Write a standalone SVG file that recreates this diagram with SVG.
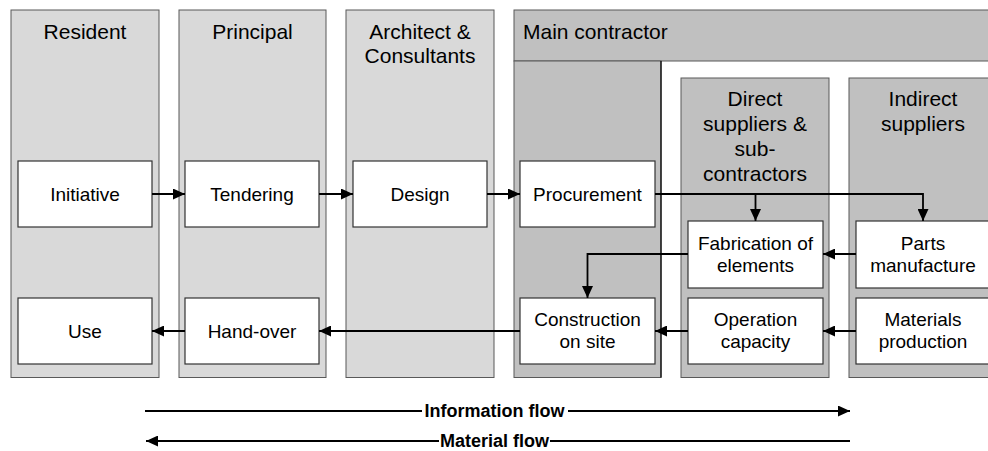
<svg xmlns="http://www.w3.org/2000/svg" width="988" height="451" viewBox="0 0 988 451">
<style>
.lane{fill:#d9d9d9;stroke:#595959;stroke-width:1}
.lane2{fill:#c0c0c0;stroke:#595959;stroke-width:1}
.node{fill:#ffffff;stroke:#333333;stroke-width:1.2}
.hd{font-family:"Liberation Sans",Arial,sans-serif;font-size:21px;fill:#000;text-anchor:middle}
.tx{font-family:"Liberation Sans",Arial,sans-serif;font-size:19px;fill:#000;text-anchor:middle}
.fl{font-family:"Liberation Sans",Arial,sans-serif;font-size:18px;font-weight:bold;fill:#000;text-anchor:middle}
.c{fill:none;stroke:#000;stroke-width:1.8}
</style>
<defs>
<marker id="ah" markerUnits="userSpaceOnUse" markerWidth="13" markerHeight="11" refX="12" refY="5.5" orient="auto">
<path d="M0,0 L12,5.5 L0,11 z" fill="#000"/>
</marker>
</defs>
<rect width="988" height="451" fill="#fff"/>
<g id="lane-resident">
<rect class="lane" x="11" y="10" width="148" height="367.5"/>
<text class="hd" x="85" y="39">Resident</text>
</g>
<g id="lane-principal">
<rect class="lane" x="179" y="10" width="147" height="367.5"/>
<text class="hd" x="252.5" y="39">Principal</text>
</g>
<g id="lane-architect">
<rect class="lane" x="346" y="10" width="148" height="367.5"/>
<text class="hd" x="420" y="39">Architect &amp;</text>
<text class="hd" x="420" y="63">Consultants</text>
</g>
<g id="lane-main-contractor">
<rect class="lane2" x="514" y="10" width="480" height="51"/>
<rect class="lane2" x="514" y="61" width="147" height="316.5"/>
<line x1="661" y1="61" x2="661" y2="377.5" stroke="#000" stroke-width="1.2"/>
<text class="hd" x="523" y="39" style="text-anchor:start">Main contractor</text>
</g>
<g id="lane-direct">
<rect class="lane2" x="681" y="78" width="148" height="299.5"/>
<text class="hd" x="755" y="106">Direct</text>
<text class="hd" x="755" y="131">suppliers &amp;</text>
<text class="hd" x="755" y="156">sub-</text>
<text class="hd" x="755" y="181">contractors</text>
</g>
<g id="lane-indirect">
<rect class="lane2" x="849" y="78" width="145" height="299.5"/>
<text class="hd" x="923" y="106">Indirect</text>
<text class="hd" x="923" y="131">suppliers</text>
</g>
<g id="node-initiative">
<rect class="node" x="18" y="161" width="134" height="66"/>
<text class="tx" x="85" y="201">Initiative</text>
</g>
<g id="node-tendering">
<rect class="node" x="185" y="161" width="134" height="66"/>
<text class="tx" x="252" y="201">Tendering</text>
</g>
<g id="node-design">
<rect class="node" x="353" y="161" width="134" height="66"/>
<text class="tx" x="420" y="201">Design</text>
</g>
<g id="node-procurement">
<rect class="node" x="520" y="161" width="135" height="66"/>
<text class="tx" x="587.5" y="201">Procurement</text>
</g>
<g id="node-use">
<rect class="node" x="18" y="298" width="134" height="66"/>
<text class="tx" x="85" y="338">Use</text>
</g>
<g id="node-handover">
<rect class="node" x="185" y="298" width="134" height="66"/>
<text class="tx" x="252" y="338">Hand-over</text>
</g>
<g id="node-construction">
<rect class="node" x="520" y="298" width="135" height="66"/>
<text class="tx" x="587.5" y="326">Construction</text>
<text class="tx" x="587.5" y="348">on site</text>
</g>
<g id="node-fabrication">
<rect class="node" x="688" y="221" width="135" height="67"/>
<text class="tx" x="755.5" y="250">Fabrication of</text>
<text class="tx" x="755.5" y="272">elements</text>
</g>
<g id="node-operation">
<rect class="node" x="688" y="298" width="135" height="66"/>
<text class="tx" x="755.5" y="326">Operation</text>
<text class="tx" x="755.5" y="348">capacity</text>
</g>
<g id="node-parts">
<rect class="node" x="856" y="221" width="140" height="67"/>
<text class="tx" x="923" y="250">Parts</text>
<text class="tx" x="923" y="272">manufacture</text>
</g>
<g id="node-materials">
<rect class="node" x="856" y="298" width="140" height="66"/>
<text class="tx" x="923" y="326">Materials</text>
<text class="tx" x="923" y="348">production</text>
</g>
<g id="connectors">
<line class="c" x1="152" y1="194" x2="185" y2="194" marker-end="url(#ah)"/>
<line class="c" x1="319" y1="194" x2="353" y2="194" marker-end="url(#ah)"/>
<line class="c" x1="487" y1="194" x2="520" y2="194" marker-end="url(#ah)"/>
<polyline class="c" points="655,194 923,194 923,221" marker-end="url(#ah)"/>
<polyline class="c" points="755.5,194 755.5,221" marker-end="url(#ah)"/>
<line class="c" x1="856" y1="254" x2="823" y2="254" marker-end="url(#ah)"/>
<polyline class="c" points="688,254 587.5,254 587.5,298" marker-end="url(#ah)"/>
<line class="c" x1="856" y1="331" x2="823" y2="331" marker-end="url(#ah)"/>
<line class="c" x1="688" y1="331" x2="655" y2="331" marker-end="url(#ah)"/>
<line class="c" x1="520" y1="331" x2="319" y2="331" marker-end="url(#ah)"/>
<line class="c" x1="185" y1="331" x2="152" y2="331" marker-end="url(#ah)"/>
<line class="c" x1="145" y1="411" x2="422" y2="411"/>
<line class="c" x1="568" y1="411" x2="850" y2="411" marker-end="url(#ah)"/>
<line class="c" x1="439" y1="441" x2="146" y2="441" marker-end="url(#ah)"/>
<line class="c" x1="550" y1="441" x2="850" y2="441"/>
</g>
<text class="fl" x="494.5" y="417">Information flow</text>
<text class="fl" x="494.5" y="447">Material flow</text>
</svg>
